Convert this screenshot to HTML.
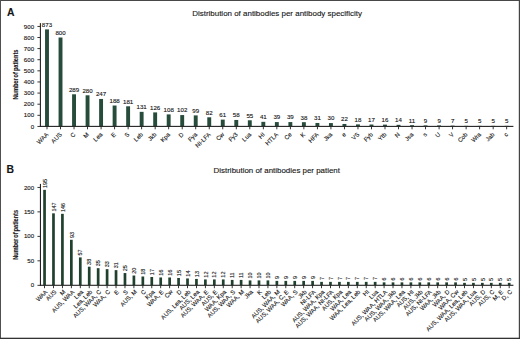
<!DOCTYPE html><html><head><meta charset="utf-8"><style>html,body{margin:0;padding:0;background:#fff}svg{display:block}text{font-family:"Liberation Sans",sans-serif;fill:#151515;stroke:#151515;stroke-width:0.12px}</style></head><body>
<svg width="520" height="339" viewBox="0 0 520 339">
<rect x="0" y="0" width="520" height="339" fill="#fff"/>
<rect x="0" y="0" width="520" height="1.0" fill="#484848"/>
<rect x="0" y="0" width="1.0" height="339" fill="#505050"/>
<rect x="518.8" y="0" width="1.2" height="339" fill="#444"/>
<rect x="0" y="337.7" width="520" height="1.3" fill="#333"/>
<text transform="translate(6.9,16.1) scale(0.92,1)" font-size="11.3" font-weight="bold" fill="#111" stroke="none">A</text>
<text transform="translate(6.5,172.8) scale(0.92,1)" font-size="11.3" font-weight="bold" fill="#111" stroke="none">B</text>
<text x="277.1" y="15.9" font-size="7.96" text-anchor="middle" fill="#2a2a2a" stroke="none">Distribution of antibodies per antibody specificity</text>
<text x="276.8" y="173.0" font-size="7.93" text-anchor="middle" fill="#2a2a2a" stroke="none">Distribution of antibodies per patient</text>
<text transform="translate(18.0,74.6) rotate(-90) scale(0.78,1)" font-size="7.2" font-weight="bold" word-spacing="-0.7" fill="#2c2c2c" stroke="none" text-anchor="middle">Number of patients</text>
<text transform="translate(18.0,234.9) rotate(-90) scale(0.78,1)" font-size="7.2" font-weight="bold" word-spacing="-0.7" fill="#2c2c2c" stroke="none" text-anchor="middle">Number of patients</text>
<g>
<rect x="45.05" y="29.40" width="3.90" height="97.00" fill="#284c3c"/>
<text transform="translate(47.00,26.80) scale(1.06,1)" font-size="5.80" text-anchor="middle">873</text>
<rect x="46.55" y="126.40" width="0.9" height="2.9" fill="#222"/>
<text transform="translate(48.80,134.90) rotate(-45)" font-size="6.00" text-anchor="end">WAA</text>
<rect x="58.57" y="37.51" width="3.90" height="88.89" fill="#284c3c"/>
<text transform="translate(60.52,34.91) scale(1.06,1)" font-size="5.80" text-anchor="middle">800</text>
<rect x="60.07" y="126.40" width="0.9" height="2.9" fill="#222"/>
<text transform="translate(62.32,134.90) rotate(-45)" font-size="6.00" text-anchor="end">AUS</text>
<rect x="72.09" y="94.29" width="3.90" height="32.11" fill="#284c3c"/>
<text transform="translate(74.04,91.69) scale(1.06,1)" font-size="5.80" text-anchor="middle">289</text>
<rect x="73.59" y="126.40" width="0.9" height="2.9" fill="#222"/>
<text transform="translate(75.84,134.90) rotate(-45)" font-size="6.00" text-anchor="end">C</text>
<rect x="85.61" y="95.29" width="3.90" height="31.11" fill="#284c3c"/>
<text transform="translate(87.56,92.69) scale(1.06,1)" font-size="5.80" text-anchor="middle">280</text>
<rect x="87.11" y="126.40" width="0.9" height="2.9" fill="#222"/>
<text transform="translate(89.36,134.90) rotate(-45)" font-size="6.00" text-anchor="end">M</text>
<rect x="99.13" y="98.96" width="3.90" height="27.44" fill="#284c3c"/>
<text transform="translate(101.08,96.36) scale(1.06,1)" font-size="5.80" text-anchor="middle">247</text>
<rect x="100.63" y="126.40" width="0.9" height="2.9" fill="#222"/>
<text transform="translate(102.88,134.90) rotate(-45)" font-size="6.00" text-anchor="end">Lea</text>
<rect x="112.65" y="105.51" width="3.90" height="20.89" fill="#284c3c"/>
<text transform="translate(114.60,102.91) scale(1.06,1)" font-size="5.80" text-anchor="middle">188</text>
<rect x="114.15" y="126.40" width="0.9" height="2.9" fill="#222"/>
<text transform="translate(116.40,134.90) rotate(-45)" font-size="6.00" text-anchor="end">E</text>
<rect x="126.17" y="106.29" width="3.90" height="20.11" fill="#284c3c"/>
<text transform="translate(128.12,103.69) scale(1.06,1)" font-size="5.80" text-anchor="middle">181</text>
<rect x="127.67" y="126.40" width="0.9" height="2.9" fill="#222"/>
<text transform="translate(129.92,134.90) rotate(-45)" font-size="6.00" text-anchor="end">S</text>
<rect x="139.69" y="111.84" width="3.90" height="14.56" fill="#284c3c"/>
<text transform="translate(141.64,109.24) scale(1.06,1)" font-size="5.80" text-anchor="middle">131</text>
<rect x="141.19" y="126.40" width="0.9" height="2.9" fill="#222"/>
<text transform="translate(143.44,134.90) rotate(-45)" font-size="6.00" text-anchor="end">Leb</text>
<rect x="153.21" y="112.40" width="3.90" height="14.00" fill="#284c3c"/>
<text transform="translate(155.16,109.80) scale(1.06,1)" font-size="5.80" text-anchor="middle">126</text>
<rect x="154.71" y="126.40" width="0.9" height="2.9" fill="#222"/>
<text transform="translate(156.96,134.90) rotate(-45)" font-size="6.00" text-anchor="end">Jkb</text>
<rect x="166.73" y="114.40" width="3.90" height="12.00" fill="#284c3c"/>
<text transform="translate(168.68,111.80) scale(1.06,1)" font-size="5.80" text-anchor="middle">108</text>
<rect x="168.23" y="126.40" width="0.9" height="2.9" fill="#222"/>
<text transform="translate(170.48,134.90) rotate(-45)" font-size="6.00" text-anchor="end">Kpa</text>
<rect x="180.25" y="115.07" width="3.90" height="11.33" fill="#284c3c"/>
<text transform="translate(182.20,112.47) scale(1.06,1)" font-size="5.80" text-anchor="middle">102</text>
<rect x="181.75" y="126.40" width="0.9" height="2.9" fill="#222"/>
<text transform="translate(184.00,134.90) rotate(-45)" font-size="6.00" text-anchor="end">D</text>
<rect x="193.77" y="115.40" width="3.90" height="11.00" fill="#284c3c"/>
<text transform="translate(195.72,112.80) scale(1.06,1)" font-size="5.80" text-anchor="middle">99</text>
<rect x="195.27" y="126.40" width="0.9" height="2.9" fill="#222"/>
<text transform="translate(197.52,134.90) rotate(-45)" font-size="6.00" text-anchor="end">Fya</text>
<rect x="207.29" y="117.29" width="3.90" height="9.11" fill="#284c3c"/>
<text transform="translate(209.24,114.69) scale(1.06,1)" font-size="5.80" text-anchor="middle">82</text>
<rect x="208.79" y="126.40" width="0.9" height="2.9" fill="#222"/>
<text transform="translate(211.04,134.90) rotate(-45)" font-size="6.00" text-anchor="end">NI-LFA</text>
<rect x="220.81" y="119.62" width="3.90" height="6.78" fill="#284c3c"/>
<text transform="translate(222.76,117.02) scale(1.06,1)" font-size="5.80" text-anchor="middle">61</text>
<rect x="222.31" y="126.40" width="0.9" height="2.9" fill="#222"/>
<text transform="translate(224.56,134.90) rotate(-45)" font-size="6.00" text-anchor="end">Cw</text>
<rect x="234.33" y="119.96" width="3.90" height="6.44" fill="#284c3c"/>
<text transform="translate(236.28,117.36) scale(1.06,1)" font-size="5.80" text-anchor="middle">58</text>
<rect x="235.83" y="126.40" width="0.9" height="2.9" fill="#222"/>
<text transform="translate(238.08,134.90) rotate(-45)" font-size="6.00" text-anchor="end">Fy3</text>
<rect x="247.85" y="120.29" width="3.90" height="6.11" fill="#284c3c"/>
<text transform="translate(249.80,117.69) scale(1.06,1)" font-size="5.80" text-anchor="middle">55</text>
<rect x="249.35" y="126.40" width="0.9" height="2.9" fill="#222"/>
<text transform="translate(251.60,134.90) rotate(-45)" font-size="6.00" text-anchor="end">Lua</text>
<rect x="261.37" y="121.84" width="3.90" height="4.56" fill="#284c3c"/>
<text transform="translate(263.32,119.24) scale(1.06,1)" font-size="5.80" text-anchor="middle">41</text>
<rect x="262.87" y="126.40" width="0.9" height="2.9" fill="#222"/>
<text transform="translate(265.12,134.90) rotate(-45)" font-size="6.00" text-anchor="end">HI</text>
<rect x="274.89" y="122.07" width="3.90" height="4.33" fill="#284c3c"/>
<text transform="translate(276.84,119.47) scale(1.06,1)" font-size="5.80" text-anchor="middle">39</text>
<rect x="276.39" y="126.40" width="0.9" height="2.9" fill="#222"/>
<text transform="translate(278.64,134.90) rotate(-45)" font-size="6.00" text-anchor="end">HTLA</text>
<rect x="288.41" y="122.07" width="3.90" height="4.33" fill="#284c3c"/>
<text transform="translate(290.36,119.47) scale(1.06,1)" font-size="5.80" text-anchor="middle">39</text>
<rect x="289.91" y="126.40" width="0.9" height="2.9" fill="#222"/>
<text transform="translate(292.16,134.90) rotate(-45)" font-size="6.00" text-anchor="end">Ce</text>
<rect x="301.93" y="122.18" width="3.90" height="4.22" fill="#284c3c"/>
<text transform="translate(303.88,119.58) scale(1.06,1)" font-size="5.80" text-anchor="middle">38</text>
<rect x="303.43" y="126.40" width="0.9" height="2.9" fill="#222"/>
<text transform="translate(305.68,134.90) rotate(-45)" font-size="6.00" text-anchor="end">K</text>
<rect x="315.45" y="122.96" width="3.90" height="3.44" fill="#284c3c"/>
<text transform="translate(317.40,120.36) scale(1.06,1)" font-size="5.80" text-anchor="middle">31</text>
<rect x="316.95" y="126.40" width="0.9" height="2.9" fill="#222"/>
<text transform="translate(319.20,134.90) rotate(-45)" font-size="6.00" text-anchor="end">HFA</text>
<rect x="328.97" y="123.07" width="3.90" height="3.33" fill="#284c3c"/>
<text transform="translate(330.92,120.47) scale(1.06,1)" font-size="5.80" text-anchor="middle">30</text>
<rect x="330.47" y="126.40" width="0.9" height="2.9" fill="#222"/>
<text transform="translate(332.72,134.90) rotate(-45)" font-size="6.00" text-anchor="end">Jka</text>
<rect x="342.49" y="123.96" width="3.90" height="2.44" fill="#284c3c"/>
<text transform="translate(344.44,121.36) scale(1.06,1)" font-size="5.80" text-anchor="middle">22</text>
<rect x="343.99" y="126.40" width="0.9" height="2.9" fill="#222"/>
<text transform="translate(346.24,134.90) rotate(-45)" font-size="6.00" text-anchor="end">e</text>
<rect x="356.01" y="124.40" width="3.90" height="2.00" fill="#284c3c"/>
<text transform="translate(357.96,121.80) scale(1.06,1)" font-size="5.80" text-anchor="middle">18</text>
<rect x="357.51" y="126.40" width="0.9" height="2.9" fill="#222"/>
<text transform="translate(359.76,134.90) rotate(-45)" font-size="6.00" text-anchor="end">VS</text>
<rect x="369.53" y="124.51" width="3.90" height="1.89" fill="#284c3c"/>
<text transform="translate(371.48,121.91) scale(1.06,1)" font-size="5.80" text-anchor="middle">17</text>
<rect x="371.03" y="126.40" width="0.9" height="2.9" fill="#222"/>
<text transform="translate(373.28,134.90) rotate(-45)" font-size="6.00" text-anchor="end">Fyb</text>
<rect x="383.05" y="124.62" width="3.90" height="1.78" fill="#284c3c"/>
<text transform="translate(385.00,122.02) scale(1.06,1)" font-size="5.80" text-anchor="middle">16</text>
<rect x="384.55" y="126.40" width="0.9" height="2.9" fill="#222"/>
<text transform="translate(386.80,134.90) rotate(-45)" font-size="6.00" text-anchor="end">Ytb</text>
<rect x="396.57" y="124.84" width="3.90" height="1.56" fill="#284c3c"/>
<text transform="translate(398.52,122.24) scale(1.06,1)" font-size="5.80" text-anchor="middle">14</text>
<rect x="398.07" y="126.40" width="0.9" height="2.9" fill="#222"/>
<text transform="translate(400.32,134.90) rotate(-45)" font-size="6.00" text-anchor="end">N</text>
<rect x="410.09" y="125.18" width="3.90" height="1.22" fill="#284c3c"/>
<text transform="translate(412.04,122.58) scale(1.06,1)" font-size="5.80" text-anchor="middle">11</text>
<rect x="411.59" y="126.40" width="0.9" height="2.9" fill="#222"/>
<text transform="translate(413.84,134.90) rotate(-45)" font-size="6.00" text-anchor="end">Jsa</text>
<rect x="423.61" y="125.40" width="3.90" height="1.00" fill="#284c3c"/>
<text transform="translate(425.56,122.80) scale(1.06,1)" font-size="5.80" text-anchor="middle">9</text>
<rect x="425.11" y="126.40" width="0.9" height="2.9" fill="#222"/>
<text transform="translate(427.36,134.90) rotate(-45)" font-size="6.00" text-anchor="end">s</text>
<rect x="437.13" y="125.40" width="3.90" height="1.00" fill="#284c3c"/>
<text transform="translate(439.08,122.80) scale(1.06,1)" font-size="5.80" text-anchor="middle">9</text>
<rect x="438.63" y="126.40" width="0.9" height="2.9" fill="#222"/>
<text transform="translate(440.88,134.90) rotate(-45)" font-size="6.00" text-anchor="end">U</text>
<rect x="450.65" y="125.62" width="3.90" height="0.78" fill="#284c3c"/>
<text transform="translate(452.60,123.02) scale(1.06,1)" font-size="5.80" text-anchor="middle">7</text>
<rect x="452.15" y="126.40" width="0.9" height="2.9" fill="#222"/>
<text transform="translate(454.40,134.90) rotate(-45)" font-size="6.00" text-anchor="end">V</text>
<rect x="464.17" y="125.84" width="3.90" height="0.56" fill="#284c3c"/>
<text transform="translate(466.12,123.24) scale(1.06,1)" font-size="5.80" text-anchor="middle">5</text>
<rect x="465.67" y="126.40" width="0.9" height="2.9" fill="#222"/>
<text transform="translate(467.92,134.90) rotate(-45)" font-size="6.00" text-anchor="end">Cob</text>
<rect x="477.69" y="125.84" width="3.90" height="0.56" fill="#284c3c"/>
<text transform="translate(479.64,123.24) scale(1.06,1)" font-size="5.80" text-anchor="middle">5</text>
<rect x="479.19" y="126.40" width="0.9" height="2.9" fill="#222"/>
<text transform="translate(481.44,134.90) rotate(-45)" font-size="6.00" text-anchor="end">Wra</text>
<rect x="491.21" y="125.84" width="3.90" height="0.56" fill="#284c3c"/>
<text transform="translate(493.16,123.24) scale(1.06,1)" font-size="5.80" text-anchor="middle">5</text>
<rect x="492.71" y="126.40" width="0.9" height="2.9" fill="#222"/>
<text transform="translate(494.96,134.90) rotate(-45)" font-size="6.00" text-anchor="end">Jab</text>
<rect x="504.73" y="125.84" width="3.90" height="0.56" fill="#284c3c"/>
<text transform="translate(506.68,123.24) scale(1.06,1)" font-size="5.80" text-anchor="middle">5</text>
<rect x="506.23" y="126.40" width="0.9" height="2.9" fill="#222"/>
<text transform="translate(508.48,134.90) rotate(-45)" font-size="6.00" text-anchor="end">c</text>
<rect x="39.85" y="125.85" width="473.55" height="1.1" fill="#222"/>
<rect x="39.85" y="23.10" width="1.1" height="103.80" fill="#222"/>
<rect x="37.40" y="125.95" width="3" height="0.9" fill="#222"/>
<text transform="translate(34.10,128.50) scale(1.06,1)" font-size="5.80" text-anchor="end">0</text>
<rect x="37.40" y="114.84" width="3" height="0.9" fill="#222"/>
<text transform="translate(34.10,117.39) scale(1.06,1)" font-size="5.80" text-anchor="end">100</text>
<rect x="37.40" y="103.73" width="3" height="0.9" fill="#222"/>
<text transform="translate(34.10,106.28) scale(1.06,1)" font-size="5.80" text-anchor="end">200</text>
<rect x="37.40" y="92.62" width="3" height="0.9" fill="#222"/>
<text transform="translate(34.10,95.17) scale(1.06,1)" font-size="5.80" text-anchor="end">300</text>
<rect x="37.40" y="81.51" width="3" height="0.9" fill="#222"/>
<text transform="translate(34.10,84.06) scale(1.06,1)" font-size="5.80" text-anchor="end">400</text>
<rect x="37.40" y="70.39" width="3" height="0.9" fill="#222"/>
<text transform="translate(34.10,72.94) scale(1.06,1)" font-size="5.80" text-anchor="end">500</text>
<rect x="37.40" y="59.28" width="3" height="0.9" fill="#222"/>
<text transform="translate(34.10,61.83) scale(1.06,1)" font-size="5.80" text-anchor="end">600</text>
<rect x="37.40" y="48.17" width="3" height="0.9" fill="#222"/>
<text transform="translate(34.10,50.72) scale(1.06,1)" font-size="5.80" text-anchor="end">700</text>
<rect x="37.40" y="37.06" width="3" height="0.9" fill="#222"/>
<text transform="translate(34.10,39.61) scale(1.06,1)" font-size="5.80" text-anchor="end">800</text>
<rect x="37.40" y="25.95" width="3" height="0.9" fill="#222"/>
<text transform="translate(34.10,28.50) scale(1.06,1)" font-size="5.80" text-anchor="end">900</text>
</g>
<g>
<rect x="43.20" y="189.85" width="2.70" height="95.45" fill="#21412f"/>
<text transform="translate(46.70,188.05) rotate(-90) scale(0.92,1)" font-size="6.00" text-anchor="start">195</text>
<rect x="44.10" y="285.30" width="0.9" height="2.9" fill="#222"/>
<text transform="translate(47.95,292.30) rotate(-45)" font-size="6.00" text-anchor="end">WAA</text>
<rect x="52.13" y="213.34" width="2.70" height="71.96" fill="#21412f"/>
<text transform="translate(55.63,211.54) rotate(-90) scale(0.92,1)" font-size="6.00" text-anchor="start">147</text>
<rect x="53.03" y="285.30" width="0.9" height="2.9" fill="#222"/>
<text transform="translate(56.88,292.30) rotate(-45)" font-size="6.00" text-anchor="end">AUS</text>
<rect x="61.07" y="213.83" width="2.70" height="71.47" fill="#21412f"/>
<text transform="translate(64.57,212.03) rotate(-90) scale(0.92,1)" font-size="6.00" text-anchor="start">146</text>
<rect x="61.97" y="285.30" width="0.9" height="2.9" fill="#222"/>
<text transform="translate(65.82,292.30) rotate(-45)" font-size="6.00" text-anchor="end">M</text>
<rect x="70.00" y="239.78" width="2.70" height="45.52" fill="#21412f"/>
<text transform="translate(73.50,237.98) rotate(-90) scale(0.92,1)" font-size="6.00" text-anchor="start">93</text>
<rect x="70.90" y="285.30" width="0.9" height="2.9" fill="#222"/>
<text transform="translate(74.75,292.30) rotate(-45)" font-size="6.00" text-anchor="end">AUS, WAA</text>
<rect x="78.94" y="257.40" width="2.70" height="27.90" fill="#21412f"/>
<text transform="translate(82.44,255.60) rotate(-90) scale(0.92,1)" font-size="6.00" text-anchor="start">57</text>
<rect x="79.84" y="285.30" width="0.9" height="2.9" fill="#222"/>
<text transform="translate(83.69,292.30) rotate(-45)" font-size="6.00" text-anchor="end">Lea</text>
<rect x="87.88" y="266.70" width="2.70" height="18.60" fill="#21412f"/>
<text transform="translate(91.38,264.90) rotate(-90) scale(0.92,1)" font-size="6.00" text-anchor="start">38</text>
<rect x="88.77" y="285.30" width="0.9" height="2.9" fill="#222"/>
<text transform="translate(92.62,292.30) rotate(-45)" font-size="6.00" text-anchor="end">Lea, Leb</text>
<rect x="96.81" y="268.17" width="2.70" height="17.13" fill="#21412f"/>
<text transform="translate(100.31,266.37) rotate(-90) scale(0.92,1)" font-size="6.00" text-anchor="start">35</text>
<rect x="97.71" y="285.30" width="0.9" height="2.9" fill="#222"/>
<text transform="translate(101.56,292.30) rotate(-45)" font-size="6.00" text-anchor="end">AUS, WAA, C</text>
<rect x="105.75" y="269.15" width="2.70" height="16.15" fill="#21412f"/>
<text transform="translate(109.25,267.35) rotate(-90) scale(0.92,1)" font-size="6.00" text-anchor="start">33</text>
<rect x="106.64" y="285.30" width="0.9" height="2.9" fill="#222"/>
<text transform="translate(110.50,292.30) rotate(-45)" font-size="6.00" text-anchor="end">WAA, C</text>
<rect x="114.68" y="270.13" width="2.70" height="15.17" fill="#21412f"/>
<text transform="translate(118.18,268.33) rotate(-90) scale(0.92,1)" font-size="6.00" text-anchor="start">31</text>
<rect x="115.58" y="285.30" width="0.9" height="2.9" fill="#222"/>
<text transform="translate(119.43,292.30) rotate(-45)" font-size="6.00" text-anchor="end">E</text>
<rect x="123.62" y="273.06" width="2.70" height="12.24" fill="#21412f"/>
<text transform="translate(127.12,271.26) rotate(-90) scale(0.92,1)" font-size="6.00" text-anchor="start">25</text>
<rect x="124.52" y="285.30" width="0.9" height="2.9" fill="#222"/>
<text transform="translate(128.37,292.30) rotate(-45)" font-size="6.00" text-anchor="end">S</text>
<rect x="132.55" y="275.51" width="2.70" height="9.79" fill="#21412f"/>
<text transform="translate(136.05,273.71) rotate(-90) scale(0.92,1)" font-size="6.00" text-anchor="start">20</text>
<rect x="133.45" y="285.30" width="0.9" height="2.9" fill="#222"/>
<text transform="translate(137.30,292.30) rotate(-45)" font-size="6.00" text-anchor="end">AUS, M</text>
<rect x="141.49" y="276.49" width="2.70" height="8.81" fill="#21412f"/>
<text transform="translate(144.99,274.69) rotate(-90) scale(0.92,1)" font-size="6.00" text-anchor="start">18</text>
<rect x="142.39" y="285.30" width="0.9" height="2.9" fill="#222"/>
<text transform="translate(146.24,292.30) rotate(-45)" font-size="6.00" text-anchor="end">C</text>
<rect x="150.42" y="276.98" width="2.70" height="8.32" fill="#21412f"/>
<text transform="translate(153.92,275.18) rotate(-90) scale(0.92,1)" font-size="6.00" text-anchor="start">17</text>
<rect x="151.32" y="285.30" width="0.9" height="2.9" fill="#222"/>
<text transform="translate(155.17,292.30) rotate(-45)" font-size="6.00" text-anchor="end">Kpa</text>
<rect x="159.35" y="277.47" width="2.70" height="7.83" fill="#21412f"/>
<text transform="translate(162.85,275.67) rotate(-90) scale(0.92,1)" font-size="6.00" text-anchor="start">16</text>
<rect x="160.25" y="285.30" width="0.9" height="2.9" fill="#222"/>
<text transform="translate(164.10,292.30) rotate(-45)" font-size="6.00" text-anchor="end">WAA, E</text>
<rect x="168.29" y="277.47" width="2.70" height="7.83" fill="#21412f"/>
<text transform="translate(171.79,275.67) rotate(-90) scale(0.92,1)" font-size="6.00" text-anchor="start">16</text>
<rect x="169.19" y="285.30" width="0.9" height="2.9" fill="#222"/>
<text transform="translate(173.04,292.30) rotate(-45)" font-size="6.00" text-anchor="end">Cw</text>
<rect x="177.22" y="277.96" width="2.70" height="7.34" fill="#21412f"/>
<text transform="translate(180.72,276.16) rotate(-90) scale(0.92,1)" font-size="6.00" text-anchor="start">15</text>
<rect x="178.12" y="285.30" width="0.9" height="2.9" fill="#222"/>
<text transform="translate(181.97,292.30) rotate(-45)" font-size="6.00" text-anchor="end">D</text>
<rect x="186.16" y="278.45" width="2.70" height="6.85" fill="#21412f"/>
<text transform="translate(189.66,276.65) rotate(-90) scale(0.92,1)" font-size="6.00" text-anchor="start">14</text>
<rect x="187.06" y="285.30" width="0.9" height="2.9" fill="#222"/>
<text transform="translate(190.91,292.30) rotate(-45)" font-size="6.00" text-anchor="end">AUS, Lea, Leb</text>
<rect x="195.09" y="278.94" width="2.70" height="6.36" fill="#21412f"/>
<text transform="translate(198.59,277.14) rotate(-90) scale(0.92,1)" font-size="6.00" text-anchor="start">13</text>
<rect x="196.00" y="285.30" width="0.9" height="2.9" fill="#222"/>
<text transform="translate(199.84,292.30) rotate(-45)" font-size="6.00" text-anchor="end">AUS, Lea</text>
<rect x="204.03" y="279.43" width="2.70" height="5.87" fill="#21412f"/>
<text transform="translate(207.53,277.63) rotate(-90) scale(0.92,1)" font-size="6.00" text-anchor="start">12</text>
<rect x="204.93" y="285.30" width="0.9" height="2.9" fill="#222"/>
<text transform="translate(208.78,292.30) rotate(-45)" font-size="6.00" text-anchor="end">AUS, WAA, E</text>
<rect x="212.97" y="279.43" width="2.70" height="5.87" fill="#21412f"/>
<text transform="translate(216.47,277.63) rotate(-90) scale(0.92,1)" font-size="6.00" text-anchor="start">12</text>
<rect x="213.87" y="285.30" width="0.9" height="2.9" fill="#222"/>
<text transform="translate(217.72,292.30) rotate(-45)" font-size="6.00" text-anchor="end">AUS, E</text>
<rect x="221.90" y="279.43" width="2.70" height="5.87" fill="#21412f"/>
<text transform="translate(225.40,277.63) rotate(-90) scale(0.92,1)" font-size="6.00" text-anchor="start">12</text>
<rect x="222.80" y="285.30" width="0.9" height="2.9" fill="#222"/>
<text transform="translate(226.65,292.30) rotate(-45)" font-size="6.00" text-anchor="end">WAA, Kpa</text>
<rect x="230.84" y="279.92" width="2.70" height="5.38" fill="#21412f"/>
<text transform="translate(234.34,278.12) rotate(-90) scale(0.92,1)" font-size="6.00" text-anchor="start">11</text>
<rect x="231.74" y="285.30" width="0.9" height="2.9" fill="#222"/>
<text transform="translate(235.59,292.30) rotate(-45)" font-size="6.00" text-anchor="end">AUS, WAA, S</text>
<rect x="239.77" y="279.92" width="2.70" height="5.38" fill="#21412f"/>
<text transform="translate(243.27,278.12) rotate(-90) scale(0.92,1)" font-size="6.00" text-anchor="start">11</text>
<rect x="240.67" y="285.30" width="0.9" height="2.9" fill="#222"/>
<text transform="translate(244.52,292.30) rotate(-45)" font-size="6.00" text-anchor="end">WAA, M</text>
<rect x="248.71" y="280.41" width="2.70" height="4.90" fill="#21412f"/>
<text transform="translate(252.21,278.61) rotate(-90) scale(0.92,1)" font-size="6.00" text-anchor="start">10</text>
<rect x="249.61" y="285.30" width="0.9" height="2.9" fill="#222"/>
<text transform="translate(253.46,292.30) rotate(-45)" font-size="6.00" text-anchor="end">Jka</text>
<rect x="257.64" y="280.41" width="2.70" height="4.90" fill="#21412f"/>
<text transform="translate(261.14,278.61) rotate(-90) scale(0.92,1)" font-size="6.00" text-anchor="start">10</text>
<rect x="258.54" y="285.30" width="0.9" height="2.9" fill="#222"/>
<text transform="translate(262.39,292.30) rotate(-45)" font-size="6.00" text-anchor="end">K</text>
<rect x="266.57" y="280.41" width="2.70" height="4.90" fill="#21412f"/>
<text transform="translate(270.07,278.61) rotate(-90) scale(0.92,1)" font-size="6.00" text-anchor="start">10</text>
<rect x="267.48" y="285.30" width="0.9" height="2.9" fill="#222"/>
<text transform="translate(271.32,292.30) rotate(-45)" font-size="6.00" text-anchor="end">Leb</text>
<rect x="275.51" y="280.89" width="2.70" height="4.41" fill="#21412f"/>
<text transform="translate(279.01,279.09) rotate(-90) scale(0.92,1)" font-size="6.00" text-anchor="start">9</text>
<rect x="276.41" y="285.30" width="0.9" height="2.9" fill="#222"/>
<text transform="translate(280.26,292.30) rotate(-45)" font-size="6.00" text-anchor="end">AUS, WAA, M</text>
<rect x="284.44" y="280.89" width="2.70" height="4.41" fill="#21412f"/>
<text transform="translate(287.94,279.09) rotate(-90) scale(0.92,1)" font-size="6.00" text-anchor="start">9</text>
<rect x="285.35" y="285.30" width="0.9" height="2.9" fill="#222"/>
<text transform="translate(289.19,292.30) rotate(-45)" font-size="6.00" text-anchor="end">AUS, WAA, C, E</text>
<rect x="293.38" y="280.89" width="2.70" height="4.41" fill="#21412f"/>
<text transform="translate(296.88,279.09) rotate(-90) scale(0.92,1)" font-size="6.00" text-anchor="start">9</text>
<rect x="294.28" y="285.30" width="0.9" height="2.9" fill="#222"/>
<text transform="translate(298.13,292.30) rotate(-45)" font-size="6.00" text-anchor="end">WAA, S</text>
<rect x="302.31" y="280.89" width="2.70" height="4.41" fill="#21412f"/>
<text transform="translate(305.81,279.09) rotate(-90) scale(0.92,1)" font-size="6.00" text-anchor="start">9</text>
<rect x="303.22" y="285.30" width="0.9" height="2.9" fill="#222"/>
<text transform="translate(307.06,292.30) rotate(-45)" font-size="6.00" text-anchor="end">Jkb</text>
<rect x="311.25" y="280.89" width="2.70" height="4.41" fill="#21412f"/>
<text transform="translate(314.75,279.09) rotate(-90) scale(0.92,1)" font-size="6.00" text-anchor="start">9</text>
<rect x="312.15" y="285.30" width="0.9" height="2.9" fill="#222"/>
<text transform="translate(316.00,292.30) rotate(-45)" font-size="6.00" text-anchor="end">NI-LFA</text>
<rect x="320.19" y="281.87" width="2.70" height="3.43" fill="#21412f"/>
<text transform="translate(323.69,280.07) rotate(-90) scale(0.92,1)" font-size="6.00" text-anchor="start">7</text>
<rect x="321.09" y="285.30" width="0.9" height="2.9" fill="#222"/>
<text transform="translate(324.94,292.30) rotate(-45)" font-size="6.00" text-anchor="end">AUS, WAA, Kpa</text>
<rect x="329.12" y="281.87" width="2.70" height="3.43" fill="#21412f"/>
<text transform="translate(332.62,280.07) rotate(-90) scale(0.92,1)" font-size="6.00" text-anchor="start">7</text>
<rect x="330.02" y="285.30" width="0.9" height="2.9" fill="#222"/>
<text transform="translate(333.87,292.30) rotate(-45)" font-size="6.00" text-anchor="end">AUS, WAA, NI-LFA</text>
<rect x="338.06" y="281.87" width="2.70" height="3.43" fill="#21412f"/>
<text transform="translate(341.56,280.07) rotate(-90) scale(0.92,1)" font-size="6.00" text-anchor="start">7</text>
<rect x="338.96" y="285.30" width="0.9" height="2.9" fill="#222"/>
<text transform="translate(342.81,292.30) rotate(-45)" font-size="6.00" text-anchor="end">AUS, Kpa</text>
<rect x="346.99" y="281.87" width="2.70" height="3.43" fill="#21412f"/>
<text transform="translate(350.49,280.07) rotate(-90) scale(0.92,1)" font-size="6.00" text-anchor="start">7</text>
<rect x="347.89" y="285.30" width="0.9" height="2.9" fill="#222"/>
<text transform="translate(351.74,292.30) rotate(-45)" font-size="6.00" text-anchor="end">WAA, Lea</text>
<rect x="355.93" y="281.87" width="2.70" height="3.43" fill="#21412f"/>
<text transform="translate(359.43,280.07) rotate(-90) scale(0.92,1)" font-size="6.00" text-anchor="start">7</text>
<rect x="356.83" y="285.30" width="0.9" height="2.9" fill="#222"/>
<text transform="translate(360.68,292.30) rotate(-45)" font-size="6.00" text-anchor="end">WAA, Lea, Leb</text>
<rect x="364.86" y="281.87" width="2.70" height="3.43" fill="#21412f"/>
<text transform="translate(368.36,280.07) rotate(-90) scale(0.92,1)" font-size="6.00" text-anchor="start">7</text>
<rect x="365.76" y="285.30" width="0.9" height="2.9" fill="#222"/>
<text transform="translate(369.61,292.30) rotate(-45)" font-size="6.00" text-anchor="end">HI</text>
<rect x="373.80" y="281.87" width="2.70" height="3.43" fill="#21412f"/>
<text transform="translate(377.30,280.07) rotate(-90) scale(0.92,1)" font-size="6.00" text-anchor="start">7</text>
<rect x="374.70" y="285.30" width="0.9" height="2.9" fill="#222"/>
<text transform="translate(378.55,292.30) rotate(-45)" font-size="6.00" text-anchor="end">Lua</text>
<rect x="382.73" y="282.36" width="2.70" height="2.94" fill="#21412f"/>
<text transform="translate(386.23,280.56) rotate(-90) scale(0.92,1)" font-size="6.00" text-anchor="start">6</text>
<rect x="383.63" y="285.30" width="0.9" height="2.9" fill="#222"/>
<text transform="translate(387.48,292.30) rotate(-45)" font-size="6.00" text-anchor="end">AUS, WAA, HTLA</text>
<rect x="391.67" y="282.36" width="2.70" height="2.94" fill="#21412f"/>
<text transform="translate(395.17,280.56) rotate(-90) scale(0.92,1)" font-size="6.00" text-anchor="start">6</text>
<rect x="392.57" y="285.30" width="0.9" height="2.9" fill="#222"/>
<text transform="translate(396.42,292.30) rotate(-45)" font-size="6.00" text-anchor="end">AUS, WAA, Jkb</text>
<rect x="400.60" y="282.36" width="2.70" height="2.94" fill="#21412f"/>
<text transform="translate(404.10,280.56) rotate(-90) scale(0.92,1)" font-size="6.00" text-anchor="start">6</text>
<rect x="401.50" y="285.30" width="0.9" height="2.9" fill="#222"/>
<text transform="translate(405.35,292.30) rotate(-45)" font-size="6.00" text-anchor="end">AUS, WAA, Lea</text>
<rect x="409.54" y="282.36" width="2.70" height="2.94" fill="#21412f"/>
<text transform="translate(413.04,280.56) rotate(-90) scale(0.92,1)" font-size="6.00" text-anchor="start">6</text>
<rect x="410.44" y="285.30" width="0.9" height="2.9" fill="#222"/>
<text transform="translate(414.29,292.30) rotate(-45)" font-size="6.00" text-anchor="end">AUS, HI</text>
<rect x="418.47" y="282.36" width="2.70" height="2.94" fill="#21412f"/>
<text transform="translate(421.97,280.56) rotate(-90) scale(0.92,1)" font-size="6.00" text-anchor="start">6</text>
<rect x="419.37" y="285.30" width="0.9" height="2.9" fill="#222"/>
<text transform="translate(423.22,292.30) rotate(-45)" font-size="6.00" text-anchor="end">AUS, Jkb</text>
<rect x="427.41" y="282.36" width="2.70" height="2.94" fill="#21412f"/>
<text transform="translate(430.91,280.56) rotate(-90) scale(0.92,1)" font-size="6.00" text-anchor="start">6</text>
<rect x="428.31" y="285.30" width="0.9" height="2.9" fill="#222"/>
<text transform="translate(432.16,292.30) rotate(-45)" font-size="6.00" text-anchor="end">AUS, NI-LFA</text>
<rect x="436.34" y="282.36" width="2.70" height="2.94" fill="#21412f"/>
<text transform="translate(439.84,280.56) rotate(-90) scale(0.92,1)" font-size="6.00" text-anchor="start">6</text>
<rect x="437.24" y="285.30" width="0.9" height="2.9" fill="#222"/>
<text transform="translate(441.09,292.30) rotate(-45)" font-size="6.00" text-anchor="end">WAA, Jkb</text>
<rect x="445.28" y="282.36" width="2.70" height="2.94" fill="#21412f"/>
<text transform="translate(448.78,280.56) rotate(-90) scale(0.92,1)" font-size="6.00" text-anchor="start">6</text>
<rect x="446.18" y="285.30" width="0.9" height="2.9" fill="#222"/>
<text transform="translate(450.03,292.30) rotate(-45)" font-size="6.00" text-anchor="end">WAA, D</text>
<rect x="454.21" y="282.36" width="2.70" height="2.94" fill="#21412f"/>
<text transform="translate(457.71,280.56) rotate(-90) scale(0.92,1)" font-size="6.00" text-anchor="start">6</text>
<rect x="455.11" y="285.30" width="0.9" height="2.9" fill="#222"/>
<text transform="translate(458.96,292.30) rotate(-45)" font-size="6.00" text-anchor="end">WAA, Cw</text>
<rect x="463.15" y="282.85" width="2.70" height="2.45" fill="#21412f"/>
<text transform="translate(466.65,281.05) rotate(-90) scale(0.92,1)" font-size="6.00" text-anchor="start">5</text>
<rect x="464.05" y="285.30" width="0.9" height="2.9" fill="#222"/>
<text transform="translate(467.90,292.30) rotate(-45)" font-size="6.00" text-anchor="end">AUS, WAA, Lea, Leb</text>
<rect x="472.08" y="282.85" width="2.70" height="2.45" fill="#21412f"/>
<text transform="translate(475.58,281.05) rotate(-90) scale(0.92,1)" font-size="6.00" text-anchor="start">5</text>
<rect x="472.98" y="285.30" width="0.9" height="2.9" fill="#222"/>
<text transform="translate(476.83,292.30) rotate(-45)" font-size="6.00" text-anchor="end">AUS, WAA, Lua</text>
<rect x="481.01" y="282.85" width="2.70" height="2.45" fill="#21412f"/>
<text transform="translate(484.51,281.05) rotate(-90) scale(0.92,1)" font-size="6.00" text-anchor="start">5</text>
<rect x="481.92" y="285.30" width="0.9" height="2.9" fill="#222"/>
<text transform="translate(485.76,292.30) rotate(-45)" font-size="6.00" text-anchor="end">AUS, D</text>
<rect x="489.95" y="282.85" width="2.70" height="2.45" fill="#21412f"/>
<text transform="translate(493.45,281.05) rotate(-90) scale(0.92,1)" font-size="6.00" text-anchor="start">5</text>
<rect x="490.85" y="285.30" width="0.9" height="2.9" fill="#222"/>
<text transform="translate(494.70,292.30) rotate(-45)" font-size="6.00" text-anchor="end">AUS, C</text>
<rect x="498.88" y="282.85" width="2.70" height="2.45" fill="#21412f"/>
<text transform="translate(502.38,281.05) rotate(-90) scale(0.92,1)" font-size="6.00" text-anchor="start">5</text>
<rect x="499.79" y="285.30" width="0.9" height="2.9" fill="#222"/>
<text transform="translate(503.63,292.30) rotate(-45)" font-size="6.00" text-anchor="end">M, E</text>
<rect x="507.82" y="282.85" width="2.70" height="2.45" fill="#21412f"/>
<text transform="translate(511.32,281.05) rotate(-90) scale(0.92,1)" font-size="6.00" text-anchor="start">5</text>
<rect x="508.72" y="285.30" width="0.9" height="2.9" fill="#222"/>
<text transform="translate(512.57,292.30) rotate(-45)" font-size="6.00" text-anchor="end">D, C</text>
<rect x="39.90" y="284.75" width="473.50" height="1.1" fill="#222"/>
<rect x="39.90" y="183.90" width="1.1" height="101.90" fill="#222"/>
<rect x="37.45" y="284.85" width="3" height="0.9" fill="#222"/>
<text transform="translate(34.15,287.40) scale(1.06,1)" font-size="5.80" text-anchor="end">0</text>
<rect x="37.45" y="260.38" width="3" height="0.9" fill="#222"/>
<text transform="translate(34.15,262.93) scale(1.06,1)" font-size="5.80" text-anchor="end">50</text>
<rect x="37.45" y="235.90" width="3" height="0.9" fill="#222"/>
<text transform="translate(34.15,238.45) scale(1.06,1)" font-size="5.80" text-anchor="end">100</text>
<rect x="37.45" y="211.43" width="3" height="0.9" fill="#222"/>
<text transform="translate(34.15,213.97) scale(1.06,1)" font-size="5.80" text-anchor="end">150</text>
<rect x="37.45" y="186.95" width="3" height="0.9" fill="#222"/>
<text transform="translate(34.15,189.50) scale(1.06,1)" font-size="5.80" text-anchor="end">200</text>
</g>
</svg></body></html>
